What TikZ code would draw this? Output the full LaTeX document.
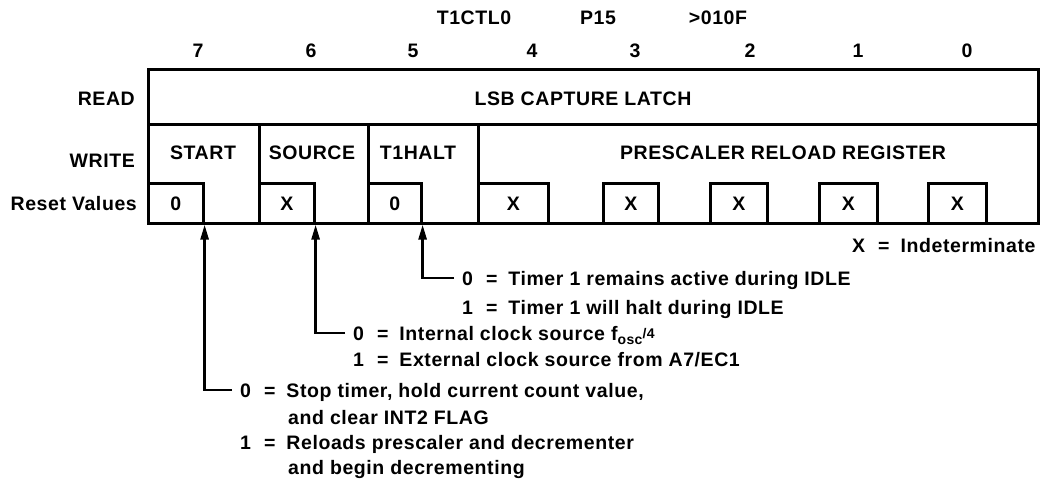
\documentclass[tikz,border=0pt]{standalone}
\usepackage{fontspec}
\setmainfont{Liberation Sans}[LetterSpace=3]
\usetikzlibrary{arrows.meta}
\newcommand{\eqsep}{\hskip 13pt=\hskip 11pt}
\begin{document}
\begin{tikzpicture}[x=1pt,y=-1pt,
  every node/.style={font=\bfseries\fontsize{19.5}{23}\selectfont, inner sep=0pt},
  frame/.style={draw, line width=2.6pt, inner sep=0pt, anchor=north west},
  cellw/.style={frame, minimum height=99pt},
  rbox/.style={frame, minimum width=55pt, minimum height=40pt},
  txt/.style={anchor=base},
  rlab/.style={anchor=base east},
  desc/.style={anchor=base west},
  ptr/.style={line width=2.6pt, -{Triangle[length=15pt,width=8pt]}}]
\useasboundingbox (0,0) rectangle (1059,480);

% header
\node[txt] (reg) at (474,24) {T1CTL0};
\node[txt] (pg) at (598,24) {P15};
\node[txt] (addr) at (718,24) {>010F};
% bit numbers
\node[txt] (b7) at (198,57) {7};
\node[txt] (b6) at (311,57) {6};
\node[txt] (b5) at (413,57) {5};
\node[txt] (b4) at (532,57) {4};
\node[txt] (b3) at (635,57) {3};
\node[txt] (b2) at (750,57) {2};
\node[txt] (b1) at (858,57) {1};
\node[txt] (b0) at (967,57) {0};

% row labels
\node[rlab] (lread) at (135,105) {READ};
\node[rlab] (lwrite) at (135,167) {WRITE};
\node[rlab] (lreset) at (137,210) {Reset Values};

% read row
\node[frame, minimum width=890pt, minimum height=55pt] (read) at (147,68) {};
\node[txt] (readtxt) at (583,105) {LSB CAPTURE LATCH};

% write row
\node[cellw, minimum width=111pt] (wstart) at (147,123) {};
\node[cellw, minimum width=109pt] (wsource) at (258,123) {};
\node[cellw, minimum width=110pt] (wthalt) at (367,123) {};
\node[cellw, minimum width=560pt] (wpres) at (477,123) {};
\node[txt] (tstart) at (203,159) {START};
\node[txt] (tsource) at (312,159) {SOURCE};
\node[txt] (tthalt) at (418,159) {T1HALT};
\node[txt] (tpres) at (783,159) {PRESCALER RELOAD REGISTER};

% reset value boxes
\node[rbox] (r7) at (147,182) {0};
\node[rbox] (r6) at (258,182) {X};
\node[rbox, minimum width=53pt] (r5) at (367,182) {0};
\node[rbox, minimum width=70pt] (r4) at (477,182) {X};
\node[rbox] (r3) at (602,182) {X};
\node[rbox, minimum width=57pt] (r2) at (709,182) {X};
\node[rbox, minimum width=58pt] (r1) at (818,182) {X};
\node[rbox, minimum width=58pt] (r0) at (927,182) {X};

\node[desc] (indet) at (852,252) {X\eqsep Indeterminate};

% T1HALT description
\node[desc] (d5a) at (462,285) {0\eqsep Timer 1 remains active during IDLE};
\node[desc] (d5b) at (462,314) {1\eqsep Timer 1 will halt during IDLE};
% SOURCE description
\node[desc] (d6a) at (353,340) {0\eqsep Internal clock source f\raisebox{-4pt}{\fontsize{14}{14}\selectfont osc}\raisebox{2pt}{\fontsize{14}{14}\selectfont /4}};
\node[desc] (d6b) at (353,366) {1\eqsep External clock source from A7/EC1};
% START description
\node[desc] (d7a) at (240,397) {0\eqsep Stop timer, hold current count value,};
\node[desc] (d7b) at (288,424) {and clear INT2 FLAG};
\node[desc] (d7c) at (240,449) {1\eqsep Reloads prescaler and decrementer};
\node[desc] (d7d) at (288,474) {and begin decrementing};

% pointers
\draw[ptr] ([xshift=-8pt,yshift=7pt]d5a.base west) -| (r5.south east);
\draw[ptr] ([xshift=-8pt,yshift=7pt]d6a.base west) -| (r6.south east);
\draw[ptr] ([xshift=-8pt,yshift=7pt]d7a.base west) -| (r7.south east);
\end{tikzpicture}
\end{document}
